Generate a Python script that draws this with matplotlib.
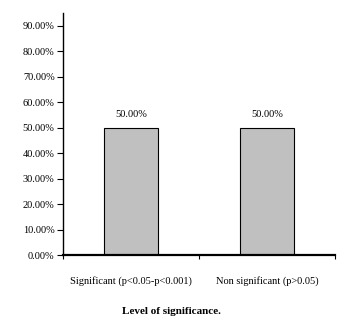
import matplotlib
matplotlib.use("Agg")
import matplotlib.pyplot as plt
from matplotlib.ticker import FixedLocator, PercentFormatter

categories = ["Significant (p<0.05-p<0.001)", "Non significant (p>0.05)"]
values = [50.0, 50.0]
value_labels = ["50.00%", "50.00%"]
y_ticks = [0, 10, 20, 30, 40, 50, 60, 70, 80, 90]
x_title = "Level of significance."

plt.rcParams['font.family'] = ['Liberation Serif', 'DejaVu Serif']

fig = plt.figure(figsize=(3.45, 3.36), dpi=100)
ax = fig.add_axes([0.1826, 0.241, 0.7884, 0.7202])

centers = [i + 0.5 for i in range(len(categories))]
bars = ax.bar(centers, values, width=0.4, color='#C0C0C0',
              edgecolor='black', linewidth=0.8, zorder=2)

for b, lab in zip(bars, value_labels):
    ax.annotate(lab, (b.get_x() + b.get_width() / 2, b.get_height()),
                xytext=(0, 6), textcoords='offset points',
                ha='center', va='bottom', fontsize=7.5)

ax.set_xlim(0, len(categories))
ax.set_ylim(0, 95)
ax.yaxis.set_major_locator(FixedLocator(y_ticks))
ax.yaxis.set_major_formatter(PercentFormatter(decimals=2))

ax.xaxis.set_major_locator(FixedLocator(range(len(categories) + 1)))
ax.xaxis.set_major_formatter(plt.NullFormatter())
ax.xaxis.set_minor_locator(FixedLocator(centers))
ax.set_xticklabels(categories, minor=True)

ax.tick_params(axis='y', which='major', direction='out', length=4, width=0.8,
               labelsize=7.5, pad=2, color='black')
ax.tick_params(axis='x', which='major', direction='out', length=3, width=0.8)
ax.tick_params(axis='x', which='minor', length=0, labelsize=7.5, pad=15)

for side in ('top', 'right'):
    ax.spines[side].set_visible(False)
ax.spines['left'].set_linewidth(1.0)
ax.spines['bottom'].set_linewidth(1.6)

# Axis title sits a little left of the plot centre
fig.text(171 / 345, 1 - 312 / 336, x_title, ha='center', va='center',
         fontsize=8, fontweight='bold')

fig.savefig("out.png", dpi=100)
